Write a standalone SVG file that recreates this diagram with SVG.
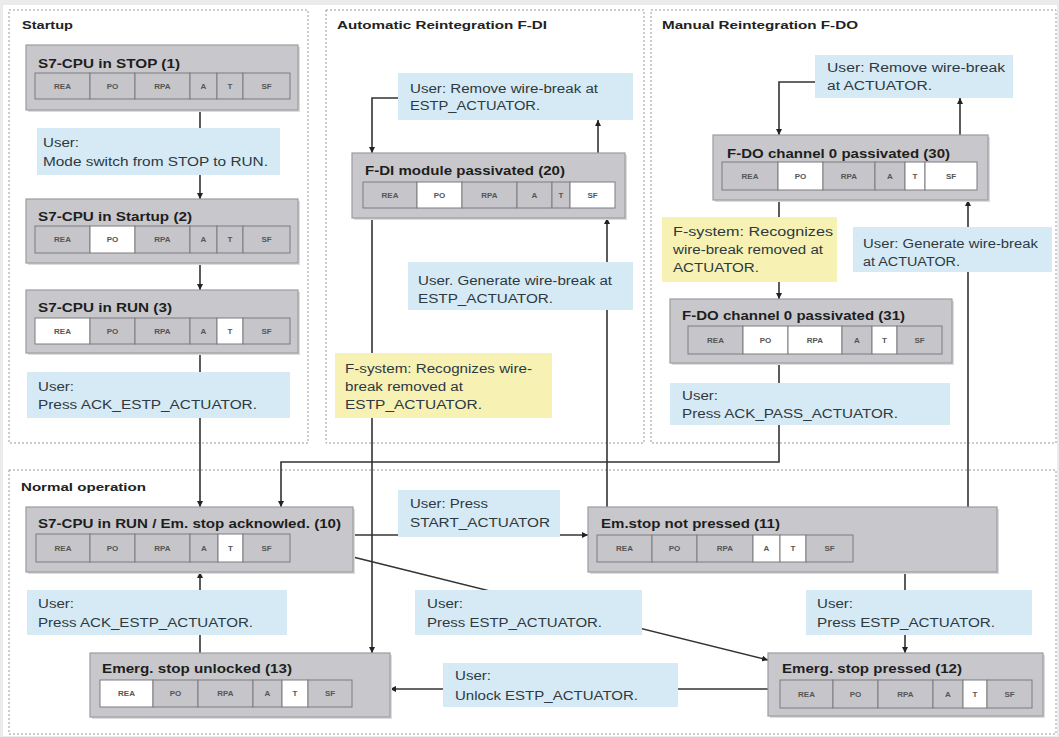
<svg xmlns="http://www.w3.org/2000/svg" width="1059" height="737" viewBox="0 0 1059 737">
<defs>
<style>
.panel{fill:#ffffff;stroke:#9a9a9a;stroke-width:1;stroke-dasharray:2 2}
.ptitle{font-family:"Liberation Sans",Arial,sans-serif;font-size:11.5px;font-weight:bold;fill:#222}
.node{fill:#c8c8cc;stroke:#9c9ca0;stroke-width:1.2}
.shadow{fill:#dcdcdc}
.ntitle{font-family:"Liberation Sans",Arial,sans-serif;font-size:12px;font-weight:bold;fill:#1e1e1e}
.cell{fill:#c6c6ca;stroke:#7c7c80;stroke-width:1}
.cellw{fill:#ffffff;stroke:#7c7c80;stroke-width:1}
.ct{font-family:"Liberation Sans",Arial,sans-serif;font-size:8px;font-weight:bold;fill:#555;text-anchor:middle}
.blue{fill:#d6eaf5}
.yellow{fill:#f7f1b4}
.lt{font-family:"Liberation Sans",Arial,sans-serif;font-size:12px;fill:#2e3940}
.conn{fill:none;stroke:#333;stroke-width:1.6}
</style>
<marker id="arr" viewBox="0 0 6 6" refX="6" refY="3" markerWidth="6" markerHeight="6" markerUnits="userSpaceOnUse" orient="auto">
<path d="M0,0 L6,3 L0,6 z" fill="#222"/>
</marker>
</defs>
<rect x="0" y="0" width="1059" height="737" fill="#ebebeb"/>
<rect x="3" y="5" width="1054" height="731" fill="#ffffff"/>

<g id="panels">
<rect class="panel" x="9" y="10" width="299" height="433"/>
<text class="ptitle" x="22" y="29" textLength="51" lengthAdjust="spacingAndGlyphs">Startup</text>
<rect class="panel" x="326" y="10" width="318" height="433"/>
<text class="ptitle" x="337" y="29" textLength="210" lengthAdjust="spacingAndGlyphs">Automatic Reintegration F-DI</text>
<rect class="panel" x="651" y="10" width="405" height="433"/>
<text class="ptitle" x="662" y="29" textLength="196" lengthAdjust="spacingAndGlyphs">Manual Reintegration F-DO</text>
<rect class="panel" x="9" y="470" width="1047" height="264"/>
<text class="ptitle" x="21" y="491" textLength="125" lengthAdjust="spacingAndGlyphs">Normal operation</text>
</g>

<g id="connectors">
<path class="conn" d="M200,110 V199" marker-end="url(#arr)"/>
<path class="conn" d="M200,263 V290" marker-end="url(#arr)"/>
<path class="conn" d="M200,353 V507" marker-end="url(#arr)"/>
<path class="conn" d="M398,98 H372 V153" marker-end="url(#arr)"/>
<path class="conn" d="M598,153 V120" marker-end="url(#arr)"/>
<path class="conn" d="M607,507 V218" marker-end="url(#arr)"/>
<path class="conn" d="M372,218 V653" marker-end="url(#arr)"/>
<path class="conn" d="M815,82 H779 V135" marker-end="url(#arr)"/>
<path class="conn" d="M960,135 V98" marker-end="url(#arr)"/>
<path class="conn" d="M779,200 V299" marker-end="url(#arr)"/>
<path class="conn" d="M779,363 V462 H281 V507" marker-end="url(#arr)"/>
<path class="conn" d="M968,507 V200" marker-end="url(#arr)"/>
<path class="conn" d="M353,535 H588" marker-end="url(#arr)"/>
<path class="conn" d="M353,557 L768,660" marker-end="url(#arr)"/>
<path class="conn" d="M905,572 V653" marker-end="url(#arr)"/>
<path class="conn" d="M768,689 H390" marker-end="url(#arr)"/>
<path class="conn" d="M200,653 V572" marker-end="url(#arr)"/>
</g>

<g id="node1">
<rect class="shadow" x="28" y="47" width="272" height="65"/>
<rect class="node" x="26" y="45" width="272" height="65"/>
<text class="ntitle" x="38" y="68" textLength="142" lengthAdjust="spacingAndGlyphs">S7-CPU in STOP (1)</text>
<rect class="cell" x="35" y="73" width="55" height="26"/><rect class="cell" x="90" y="73" width="45" height="26"/><rect class="cell" x="135" y="73" width="55" height="26"/><rect class="cell" x="190" y="73" width="27" height="26"/><rect class="cell" x="217" y="73" width="26" height="26"/><rect class="cell" x="243" y="73" width="47" height="26"/>
<text class="ct" x="62.5" y="89">REA</text><text class="ct" x="112.5" y="89">PO</text><text class="ct" x="162.5" y="89">RPA</text><text class="ct" x="203.5" y="89">A</text><text class="ct" x="230" y="89">T</text><text class="ct" x="266.5" y="89">SF</text>
</g>

<g id="node2">
<rect class="shadow" x="28" y="201" width="272" height="64"/>
<rect class="node" x="26" y="199" width="272" height="64"/>
<text class="ntitle" x="38" y="221" textLength="154" lengthAdjust="spacingAndGlyphs">S7-CPU in Startup (2)</text>
<rect class="cell" x="35" y="226" width="55" height="27"/><rect class="cellw" x="90" y="226" width="45" height="27"/><rect class="cell" x="135" y="226" width="55" height="27"/><rect class="cell" x="190" y="226" width="27" height="27"/><rect class="cell" x="217" y="226" width="26" height="27"/><rect class="cell" x="243" y="226" width="47" height="27"/>
<text class="ct" x="62.5" y="242">REA</text><text class="ct" x="112.5" y="242">PO</text><text class="ct" x="162.5" y="242">RPA</text><text class="ct" x="203.5" y="242">A</text><text class="ct" x="230" y="242">T</text><text class="ct" x="266.5" y="242">SF</text>
</g>

<g id="node3">
<rect class="shadow" x="28" y="292" width="272" height="63"/>
<rect class="node" x="26" y="290" width="272" height="63"/>
<text class="ntitle" x="38" y="312" textLength="134" lengthAdjust="spacingAndGlyphs">S7-CPU in RUN (3)</text>
<rect class="cellw" x="35" y="318" width="55" height="26"/><rect class="cell" x="90" y="318" width="45" height="26"/><rect class="cell" x="135" y="318" width="55" height="26"/><rect class="cell" x="190" y="318" width="27" height="26"/><rect class="cellw" x="217" y="318" width="26" height="26"/><rect class="cell" x="243" y="318" width="47" height="26"/>
<text class="ct" x="62.5" y="334">REA</text><text class="ct" x="112.5" y="334">PO</text><text class="ct" x="162.5" y="334">RPA</text><text class="ct" x="203.5" y="334">A</text><text class="ct" x="230" y="334">T</text><text class="ct" x="266.5" y="334">SF</text>
</g>

<g id="node20">
<rect class="shadow" x="354" y="155" width="273" height="65"/>
<rect class="node" x="352" y="153" width="273" height="65"/>
<text class="ntitle" x="365" y="175" textLength="200" lengthAdjust="spacingAndGlyphs">F-DI module passivated (20)</text>
<rect class="cell" x="363" y="182" width="54" height="26"/><rect class="cellw" x="417" y="182" width="45" height="26"/><rect class="cell" x="462" y="182" width="55" height="26"/><rect class="cell" x="517" y="182" width="35" height="26"/><rect class="cell" x="552" y="182" width="18" height="26"/><rect class="cellw" x="570" y="182" width="45" height="26"/>
<text class="ct" x="390" y="198">REA</text><text class="ct" x="439.5" y="198">PO</text><text class="ct" x="489.5" y="198">RPA</text><text class="ct" x="534.5" y="198">A</text><text class="ct" x="561" y="198">T</text><text class="ct" x="592.5" y="198">SF</text>
</g>

<g id="node30">
<rect class="shadow" x="715" y="137" width="275" height="65"/>
<rect class="node" x="713" y="135" width="275" height="65"/>
<text class="ntitle" x="727" y="158" textLength="223" lengthAdjust="spacingAndGlyphs">F-DO channel 0 passivated (30)</text>
<rect class="cell" x="722" y="162" width="56" height="28"/><rect class="cellw" x="778" y="162" width="45" height="28"/><rect class="cell" x="823" y="162" width="52" height="28"/><rect class="cell" x="875" y="162" width="30" height="28"/><rect class="cellw" x="905" y="162" width="20" height="28"/><rect class="cellw" x="925" y="162" width="52" height="28"/>
<text class="ct" x="750" y="179">REA</text><text class="ct" x="800.5" y="179">PO</text><text class="ct" x="849" y="179">RPA</text><text class="ct" x="890" y="179">A</text><text class="ct" x="915" y="179">T</text><text class="ct" x="951" y="179">SF</text>
</g>

<g id="node31">
<rect class="shadow" x="672" y="301" width="282" height="64"/>
<rect class="node" x="670" y="299" width="282" height="64"/>
<text class="ntitle" x="682" y="320" textLength="223" lengthAdjust="spacingAndGlyphs">F-DO channel 0 passivated (31)</text>
<rect class="cell" x="688" y="326" width="55" height="28"/><rect class="cellw" x="743" y="326" width="45" height="28"/><rect class="cellw" x="788" y="326" width="54" height="28"/><rect class="cell" x="842" y="326" width="30" height="28"/><rect class="cellw" x="872" y="326" width="25" height="28"/><rect class="cell" x="897" y="326" width="45" height="28"/>
<text class="ct" x="715.5" y="343">REA</text><text class="ct" x="765.5" y="343">PO</text><text class="ct" x="815" y="343">RPA</text><text class="ct" x="857" y="343">A</text><text class="ct" x="884.5" y="343">T</text><text class="ct" x="919.5" y="343">SF</text>
</g>

<g id="node10">
<rect class="shadow" x="28" y="509" width="327" height="65"/>
<rect class="node" x="26" y="507" width="327" height="65"/>
<text class="ntitle" x="38" y="528" textLength="303" lengthAdjust="spacingAndGlyphs">S7-CPU in RUN / Em. stop acknowled. (10)</text>
<rect class="cell" x="36" y="534" width="54" height="28"/><rect class="cell" x="90" y="534" width="45" height="28"/><rect class="cell" x="135" y="534" width="55" height="28"/><rect class="cell" x="190" y="534" width="28" height="28"/><rect class="cellw" x="218" y="534" width="25" height="28"/><rect class="cell" x="243" y="534" width="47" height="28"/>
<text class="ct" x="63" y="551">REA</text><text class="ct" x="112.5" y="551">PO</text><text class="ct" x="162.5" y="551">RPA</text><text class="ct" x="204" y="551">A</text><text class="ct" x="230.5" y="551">T</text><text class="ct" x="266.5" y="551">SF</text>
</g>

<g id="node11">
<rect class="shadow" x="590" y="509" width="409" height="65"/>
<rect class="node" x="588" y="507" width="409" height="65"/>
<text class="ntitle" x="601" y="528" textLength="179" lengthAdjust="spacingAndGlyphs">Em.stop not pressed (11)</text>
<rect class="cell" x="597" y="535" width="55" height="27"/><rect class="cell" x="652" y="535" width="45" height="27"/><rect class="cell" x="697" y="535" width="56" height="27"/><rect class="cellw" x="753" y="535" width="27" height="27"/><rect class="cellw" x="780" y="535" width="26" height="27"/><rect class="cell" x="806" y="535" width="47" height="27"/>
<text class="ct" x="624.5" y="551">REA</text><text class="ct" x="674.5" y="551">PO</text><text class="ct" x="725" y="551">RPA</text><text class="ct" x="766.5" y="551">A</text><text class="ct" x="793" y="551">T</text><text class="ct" x="829.5" y="551">SF</text>
</g>

<g id="node12">
<rect class="shadow" x="770" y="655" width="275" height="63"/>
<rect class="node" x="768" y="653" width="275" height="63"/>
<text class="ntitle" x="782" y="673" textLength="180" lengthAdjust="spacingAndGlyphs">Emerg. stop pressed (12)</text>
<rect class="cell" x="780" y="680" width="53" height="28"/><rect class="cell" x="833" y="680" width="45" height="28"/><rect class="cell" x="878" y="680" width="55" height="28"/><rect class="cell" x="933" y="680" width="30" height="28"/><rect class="cellw" x="963" y="680" width="24" height="28"/><rect class="cell" x="987" y="680" width="45" height="28"/>
<text class="ct" x="806.5" y="697">REA</text><text class="ct" x="855.5" y="697">PO</text><text class="ct" x="905.5" y="697">RPA</text><text class="ct" x="948" y="697">A</text><text class="ct" x="975" y="697">T</text><text class="ct" x="1009.5" y="697">SF</text>
</g>

<g id="node13">
<rect class="shadow" x="92" y="655" width="300" height="64"/>
<rect class="node" x="90" y="653" width="300" height="64"/>
<text class="ntitle" x="102" y="673" textLength="190" lengthAdjust="spacingAndGlyphs">Emerg. stop unlocked (13)</text>
<rect class="cellw" x="100" y="680" width="53" height="27"/><rect class="cell" x="153" y="680" width="45" height="27"/><rect class="cell" x="198" y="680" width="55" height="27"/><rect class="cell" x="253" y="680" width="29" height="27"/><rect class="cellw" x="282" y="680" width="26" height="27"/><rect class="cell" x="308" y="680" width="44" height="27"/>
<text class="ct" x="126.5" y="696">REA</text><text class="ct" x="175.5" y="696">PO</text><text class="ct" x="225.5" y="696">RPA</text><text class="ct" x="267.5" y="696">A</text><text class="ct" x="295" y="696">T</text><text class="ct" x="330" y="696">SF</text>
</g>

<g id="label-mode-switch">
<rect class="blue" x="37" y="128" width="243" height="47"/>
<text class="lt" x="43" y="147" textLength="36" lengthAdjust="spacingAndGlyphs">User:</text>
<text class="lt" x="43" y="166" textLength="225" lengthAdjust="spacingAndGlyphs">Mode switch from STOP to RUN.</text>
</g>
<g id="label-ack-estp-1">
<rect class="blue" x="27" y="372" width="263" height="46"/>
<text class="lt" x="38" y="391" textLength="36" lengthAdjust="spacingAndGlyphs">User:</text>
<text class="lt" x="38" y="409" textLength="219" lengthAdjust="spacingAndGlyphs">Press ACK_ESTP_ACTUATOR.</text>
</g>
<g id="label-remove-fdi">
<rect class="blue" x="398" y="73" width="235" height="47"/>
<text class="lt" x="410" y="93" textLength="188" lengthAdjust="spacingAndGlyphs">User: Remove wire-break at</text>
<text class="lt" x="410" y="110" textLength="130" lengthAdjust="spacingAndGlyphs">ESTP_ACTUATOR.</text>
</g>
<g id="label-generate-fdi">
<rect class="blue" x="408" y="262" width="225" height="48"/>
<text class="lt" x="418" y="285" textLength="194" lengthAdjust="spacingAndGlyphs">User. Generate wire-break at</text>
<text class="lt" x="418" y="303" textLength="135" lengthAdjust="spacingAndGlyphs">ESTP_ACTUATOR.</text>
</g>
<g id="label-fsys-fdi">
<rect class="yellow" x="335" y="353" width="217" height="65"/>
<text class="lt" x="345" y="373" textLength="187" lengthAdjust="spacingAndGlyphs">F-system: Recognizes wire-</text>
<text class="lt" x="345" y="391" textLength="118" lengthAdjust="spacingAndGlyphs">break removed at</text>
<text class="lt" x="345" y="409" textLength="137" lengthAdjust="spacingAndGlyphs">ESTP_ACTUATOR.</text>
</g>
<g id="label-remove-fdo">
<rect class="blue" x="815" y="55" width="198" height="43"/>
<text class="lt" x="827" y="72" textLength="178" lengthAdjust="spacingAndGlyphs">User: Remove wire-break</text>
<text class="lt" x="827" y="90" textLength="105" lengthAdjust="spacingAndGlyphs">at ACTUATOR.</text>
</g>
<g id="label-fsys-fdo">
<rect class="yellow" x="662" y="217" width="175" height="65"/>
<text class="lt" x="673" y="236" textLength="160" lengthAdjust="spacingAndGlyphs">F-system: Recognizes</text>
<text class="lt" x="673" y="254" textLength="150" lengthAdjust="spacingAndGlyphs">wire-break removed at</text>
<text class="lt" x="673" y="272" textLength="86" lengthAdjust="spacingAndGlyphs">ACTUATOR.</text>
</g>
<g id="label-generate-fdo">
<rect class="blue" x="853" y="227" width="199" height="45"/>
<text class="lt" x="863" y="248" textLength="175" lengthAdjust="spacingAndGlyphs">User: Generate wire-break</text>
<text class="lt" x="863" y="266" textLength="97" lengthAdjust="spacingAndGlyphs">at ACTUATOR.</text>
</g>
<g id="label-ack-pass">
<rect class="blue" x="670" y="383" width="280" height="42"/>
<text class="lt" x="682" y="400" textLength="36" lengthAdjust="spacingAndGlyphs">User:</text>
<text class="lt" x="682" y="418" textLength="216" lengthAdjust="spacingAndGlyphs">Press ACK_PASS_ACTUATOR.</text>
</g>
<g id="label-ack-estp-2">
<rect class="blue" x="27" y="590" width="260" height="45"/>
<text class="lt" x="38" y="608" textLength="36" lengthAdjust="spacingAndGlyphs">User:</text>
<text class="lt" x="38" y="627" textLength="215" lengthAdjust="spacingAndGlyphs">Press ACK_ESTP_ACTUATOR.</text>
</g>
<g id="label-start">
<rect class="blue" x="398" y="490" width="162" height="47"/>
<text class="lt" x="410" y="508" textLength="78" lengthAdjust="spacingAndGlyphs">User: Press</text>
<text class="lt" x="410" y="527" textLength="140" lengthAdjust="spacingAndGlyphs">START_ACTUATOR</text>
</g>
<g id="label-estp-mid">
<rect class="blue" x="415" y="590" width="227" height="45"/>
<text class="lt" x="427" y="608" textLength="36" lengthAdjust="spacingAndGlyphs">User:</text>
<text class="lt" x="427" y="627" textLength="175" lengthAdjust="spacingAndGlyphs">Press ESTP_ACTUATOR.</text>
</g>
<g id="label-estp-right">
<rect class="blue" x="806" y="590" width="226" height="45"/>
<text class="lt" x="817" y="608" textLength="36" lengthAdjust="spacingAndGlyphs">User:</text>
<text class="lt" x="817" y="627" textLength="178" lengthAdjust="spacingAndGlyphs">Press ESTP_ACTUATOR.</text>
</g>
<g id="label-unlock">
<rect class="blue" x="443" y="663" width="235" height="44"/>
<text class="lt" x="455" y="680" textLength="36" lengthAdjust="spacingAndGlyphs">User:</text>
<text class="lt" x="455" y="700" textLength="183" lengthAdjust="spacingAndGlyphs">Unlock ESTP_ACTUATOR.</text>
</g>
</svg>
